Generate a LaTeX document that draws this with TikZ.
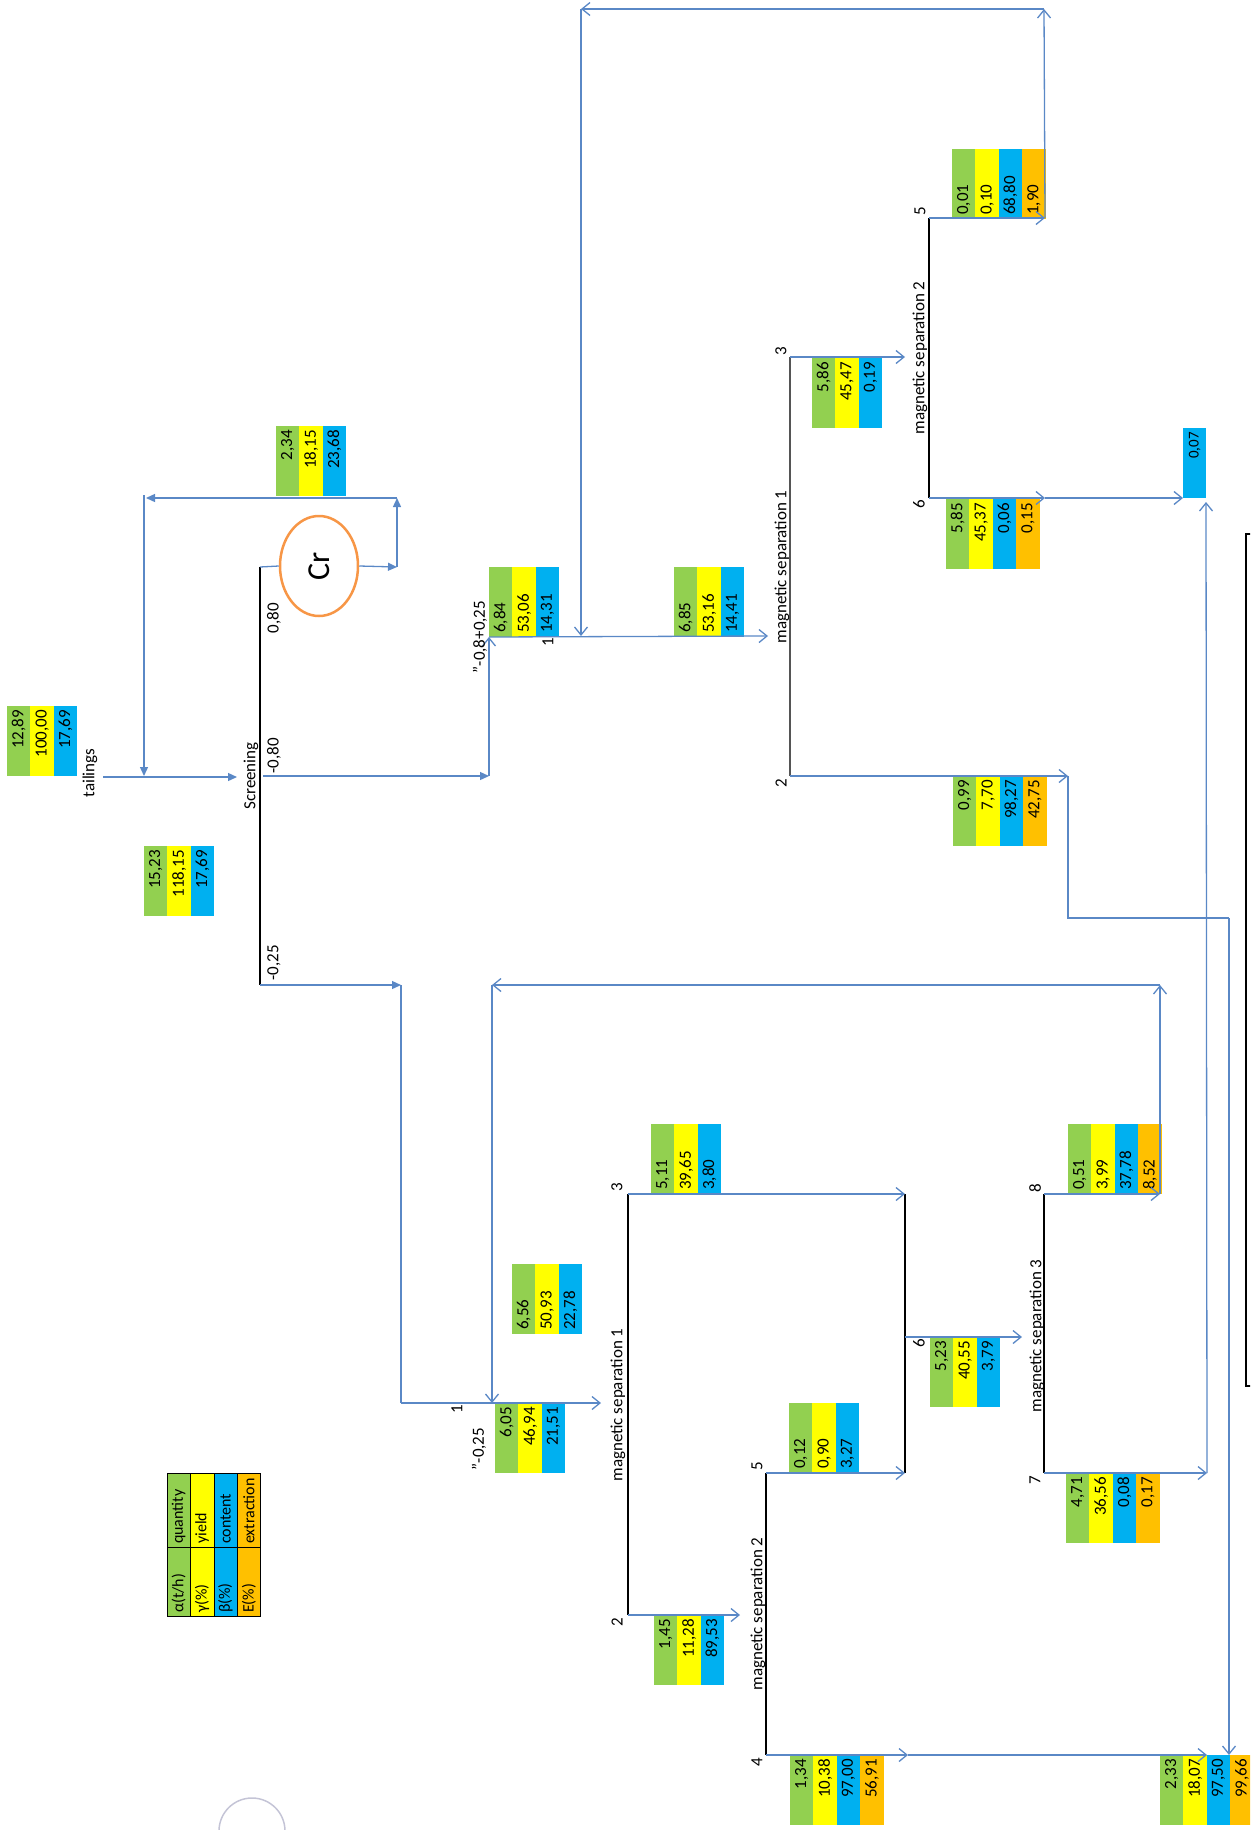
\documentclass[tikz,border=0pt]{standalone}
\usepackage{fontspec}
\setmainfont{Carlito}
\usetikzlibrary{arrows.meta,calc,shapes.geometric}

\definecolor{cell1}{HTML}{92D050}
\definecolor{cell2}{HTML}{FFFF00}
\definecolor{cell3}{HTML}{00B0F0}
\definecolor{cell4}{HTML}{FFC000}
\definecolor{flow}{HTML}{5A88C6}
\definecolor{ring}{HTML}{F79646}
\definecolor{lensgray}{HTML}{C4C4D6}
\definecolor{darkline}{HTML}{555555}

\def\boxoffnorth{4}
\def\boxoffsouth{-4}

\tikzset{
  cell/.style={inner sep=0pt, outer sep=0pt, minimum width=23.4pt, minimum height=70pt, anchor=north west},
  val/.style={rotate=90, inner sep=0pt, font=\fontsize{17}{17}\selectfont},
  txtnorth/.style={val, anchor=east},
  txtsouth/.style={val, anchor=west},
  lbl/.style={rotate=90, inner sep=0pt, font=\fontsize{17}{17}\selectfont},
  flowline/.style={draw=flow, line width=1.3pt},
  oa/.style={-{Straight Barb[length=8pt,width=13pt]}},
  fa/.style={-{Triangle[length=9pt,width=8pt]}},
  sepline/.style={line width=2pt, draw=black},
}

% one coloured column per value: quantity, yield, content, extraction
\newcommand\databox[5]{%
  \foreach \v [count=\i] in {#5}{%
    \node[cell, fill=cell\i] (#1-\i) at ({#2+(\i-1)*23.4}, #3) {};
    \node[txt#4] at ($(#1-\i.#4)+(0,\csname boxoff#4\endcsname)$) {\v};
  }%
}

\begin{document}
\begin{tikzpicture}[x=1pt, y=-1pt]
\useasboundingbox (0,0) rectangle (1250,1830);
\clip (0,0) rectangle (1250,1830);

% ---------- data boxes ----------
\databox{A}{7}{706}{north}{{12,89},{100,00},{17,69}}
\databox{B}{144}{846}{north}{{15,23},{118,15},{17,69}}
\databox{C}{276}{426}{north}{{2,34},{18,15},{23,68}}
\databox{D}{489}{567}{south}{{6,84},{53,06},{14,31}}
\databox{E}{674}{567}{south}{{6,85},{53,16},{14,41}}
\databox{F}{812}{358}{north}{{5,86},{45,47},{0,19}}
\databox{G}{952}{149}{south}{{0,01},{0,10},{68,80},{1,90}}
\databox{H}{946}{499}{north}{{5,85},{45,37},{0,06},{0,15}}
\databox{J}{953}{776}{north}{{0,99},{7,70},{98,27},{42,75}}
\databox{M}{495}{1403}{north}{{6,05},{46,94},{21,51}}
\databox{N}{512}{1264}{south}{{6,56},{50,93},{22,78}}
\databox{O}{651}{1124}{south}{{5,11},{39,65},{3,80}}
\databox{P}{789}{1403}{south}{{0,12},{0,90},{3,27}}
\databox{Q}{654}{1615}{north}{{1,45},{11,28},{89,53}}
\databox{R}{790}{1755}{north}{{1,34},{10,38},{97,00},{56,91}}
\databox{S}{930}{1337}{north}{{5,23},{40,55},{3,79}}
\databox{T}{1068}{1124}{south}{{0,51},{3,99},{37,78},{8,52}}
\databox{K}{1066}{1473}{north}{{4,71},{36,56},{0,08},{0,17}}
\databox{L}{1160}{1755}{north}{{2,33},{18,07},{97,50},{99,66}}
\node[cell, fill=cell3] (I-1) at (1183,428) {};
\node[txtnorth, font=\fontsize{15}{15}\selectfont] at ($(I-1.north)+(0,4)$) {0,07};

% ---------- legend ----------
\foreach \i in {1,...,4}{
  \node[cell, fill=cell\i, draw=black, line width=0.6pt, minimum height=74pt] (leg-t\i) at ({167+(\i-1)*23.4},1473) {};
  \node[cell, fill=cell\i, draw=black, line width=0.6pt, minimum height=69pt] (leg-b\i) at ({167+(\i-1)*23.4},1547) {};
}
\tikzset{legtxt/.style={txtsouth, font=\fontsize{16}{16}\selectfont}}
\node[legtxt] at ($(leg-t1.south)+(0,-3)$) {quantity};
\node[legtxt] at ($(leg-t2.south)+(0,-3)$) {yield};
\node[legtxt] at ($(leg-t3.south)+(0,-3)$) {content};
\node[legtxt] at ($(leg-t4.south)+(0,-3)$) {extraction};
\node[legtxt] at ($(leg-b1.south)+(0,-3)$) {α(t/h)};
\node[legtxt] at ($(leg-b2.south)+(0,-3)$) {γ(\%)};
\node[legtxt] at ($(leg-b3.south)+(0,-3)$) {β(\%)};
\node[legtxt] at ($(leg-b4.south)+(0,-3)$) {E(\%)};

% ---------- key points of the flowsheet ----------
\coordinate (tailsrc) at (103,777);
\coordinate (scrin) at (237,777);
\coordinate (scrtop) at (260,567);
\coordinate (scr80) at (263,776);
\coordinate (scrbot) at (260,985);
\coordinate (crout) at (397,567);
\coordinate (crup) at (397,498);
\coordinate (retl) at (146,498);
\coordinate (retc) at (144,495);
\coordinate (retj) at (144,776);
\coordinate (fine80) at (489,776);
\coordinate (ms1in) at (768,636);
\coordinate (ms1t) at (790,357);
\coordinate (ms1b) at (790,776);
\coordinate (ms2in) at (905,357);
\coordinate (ms2t) at (929,218);
\coordinate (ms2b) at (929,498);
\coordinate (gout) at (1045,218);
\coordinate (loopTR) at (1044,9);
\coordinate (loopTL) at (581,9);
\coordinate (loopin) at (581,636);
\coordinate (hout) at (1045,498);
\coordinate (iin) at (1183,498);
\coordinate (iup) at (1206,502);
\coordinate (conc1) at (1068,776);
\coordinate (conc2) at (1068,918);
\coordinate (conc3) at (1229,918);
\coordinate (conc4) at (1229,1755);
\coordinate (d1) at (401,985);
\coordinate (d2) at (401,1403);
\coordinate (lms1in) at (601,1403);
\coordinate (r1) at (1160,985);
\coordinate (r2) at (492,985);
\coordinate (r3) at (492,1403);
\coordinate (lms1t) at (628,1194);
\coordinate (lms1b) at (628,1615);
\coordinate (lms2in) at (740,1615);
\coordinate (mid3) at (905,1194);
\coordinate (mid5) at (905,1473);
\coordinate (mid6) at (905,1337);
\coordinate (ms3in) at (1022,1337);
\coordinate (lms2t) at (766,1473);
\coordinate (lms2b) at (766,1755);
\coordinate (c4a) at (908,1755);
\coordinate (c4b) at (1207,1755);
\coordinate (ms3t) at (1044,1194);
\coordinate (ms3b) at (1044,1473);
\coordinate (t1) at (1160,1194);
\coordinate (k1) at (1207,1473);

% ---------- crusher ----------
\node[ellipse, draw=ring, line width=2.5pt, fill=white, minimum width=78pt, minimum height=100pt, inner sep=0pt] (cr) at (319,566) {};
\node[lbl, font=\fontsize{32}{32}\selectfont] (crtxt) at (cr) {Cr};

% ---------- separation units ----------
\draw[sepline] (scrtop) -- (scrbot);
\draw[sepline, draw=darkline] (ms1t) -- (ms1b);
\draw[sepline] (ms2t) -- (ms2b);
\draw[sepline] (lms1t) -- (lms1b);
\draw[sepline] (mid3) -- (mid5);
\draw[sepline] (lms2t) -- (lms2b);
\draw[sepline] (ms3t) -- (ms3b);

% ---------- screening circuit ----------
\draw[flowline, fa] (tailsrc) -- (scrin);
\draw[flowline] (scrtop) -- (cr.west);
\draw[flowline, fa] (cr.east) -- (crout);
\draw[flowline, fa] (crout) -- (crup);
\draw[flowline, fa] (crup) -- (retl);
\draw[flowline, fa] (retc) -- (retj);
\draw[flowline, fa] (scr80) -- (fine80);
\draw[flowline, oa] (fine80) -- (D-1.south west);
\draw[flowline, fa] (scrbot) -- (d1);
\draw[flowline] (d1) -- (d2);

% ---------- -0,8+0,25 circuit ----------
\draw[flowline, oa] (D-1.south west) -- (ms1in);
\draw[flowline, oa] (ms1t) -- (ms2in);
\draw[flowline, oa] (ms1b) -- (conc1);
\draw[flowline] (conc1) -- (conc2) -- (conc3);
\draw[flowline, oa] (conc3) -- (conc4);
\draw[flowline, oa] (ms2t) -- (gout);
\draw[flowline, oa] (gout) -- (loopTR);
\draw[flowline, oa] (loopTR) -- (loopTL);
\draw[flowline, oa] (loopTL) -- (loopin);
\draw[flowline, oa] (ms2b) -- (hout);
\draw[flowline, oa] (hout) -- (iin);

% ---------- -0,25 circuit ----------
\draw[flowline, oa] (d2) -- (lms1in);
\draw[flowline, oa] (t1) -- (r1);
\draw[flowline, oa] (r1) -- (r2);
\draw[flowline, oa] (r2) -- (r3);
\draw[flowline, oa] (lms1t) -- (mid3);
\draw[flowline, oa] (lms1b) -- (lms2in);
\draw[flowline, oa] (lms2t) -- (mid5);
\draw[flowline, oa] (lms2b) -- (c4a);
\draw[flowline, oa] (c4a) -- (c4b);
\draw[flowline, oa] (mid6) -- (ms3in);
\draw[flowline, oa] (ms3t) -- (t1);
\draw[flowline, oa] (ms3b) -- (k1);
\draw[flowline, oa] (k1) -- (iup);

% ---------- labels ----------
\node[lbl] (l-tail) at (90,773) {tailings};
\node[lbl] (l-scr) at (251,776) {Screening};
\node[lbl] (l-080) at (274,618) {0,80};
\node[lbl] (l-m080) at (274,756) {-0,80};
\node[lbl] (l-m025) at (274,963) {-0,25};
\node[lbl] (l-mid) at (480,637) {"-0,8+0,25};
\node[lbl] (l-one-a) at (548,642) {1};
\node[lbl] (l-ms1a) at (782,567) {magnetic separation 1};
\node[lbl] (l-3a) at (781,351) {3};
\node[lbl] (l-2a) at (781,783) {2};
\node[lbl] (l-ms2a) at (920,358) {magnetic separation 2};
\node[lbl] (l-5a) at (920,211) {5};
\node[lbl] (l-6a) at (919,504) {6};
\node[lbl] (l-one-b) at (457,1409) {1};
\node[lbl] (l-fine) at (479,1449) {"-0,25};
\node[lbl] (l-ms1b) at (618,1405) {magnetic separation 1};
\node[lbl] (l-3b) at (617,1187) {3};
\node[lbl] (l-2b) at (617,1622) {2};
\node[lbl] (l-6b) at (919,1343) {6};
\node[lbl] (l-5b) at (757,1466) {5};
\node[lbl] (l-4b) at (757,1762) {4};
\node[lbl] (l-ms2b) at (758,1614) {magnetic separation 2};
\node[lbl] (l-ms3) at (1037,1336) {magnetic separation 3};
\node[lbl] (l-8) at (1035,1188) {8};
\node[lbl] (l-7) at (1035,1480) {7};

% ---------- frame on the right edge and lens at the bottom ----------
\draw[line width=2pt] (1246,534) rectangle (1290,1386);
\draw[lensgray, line width=1.5pt] (252,1831) circle[radius=33];
\end{tikzpicture}
\end{document}
